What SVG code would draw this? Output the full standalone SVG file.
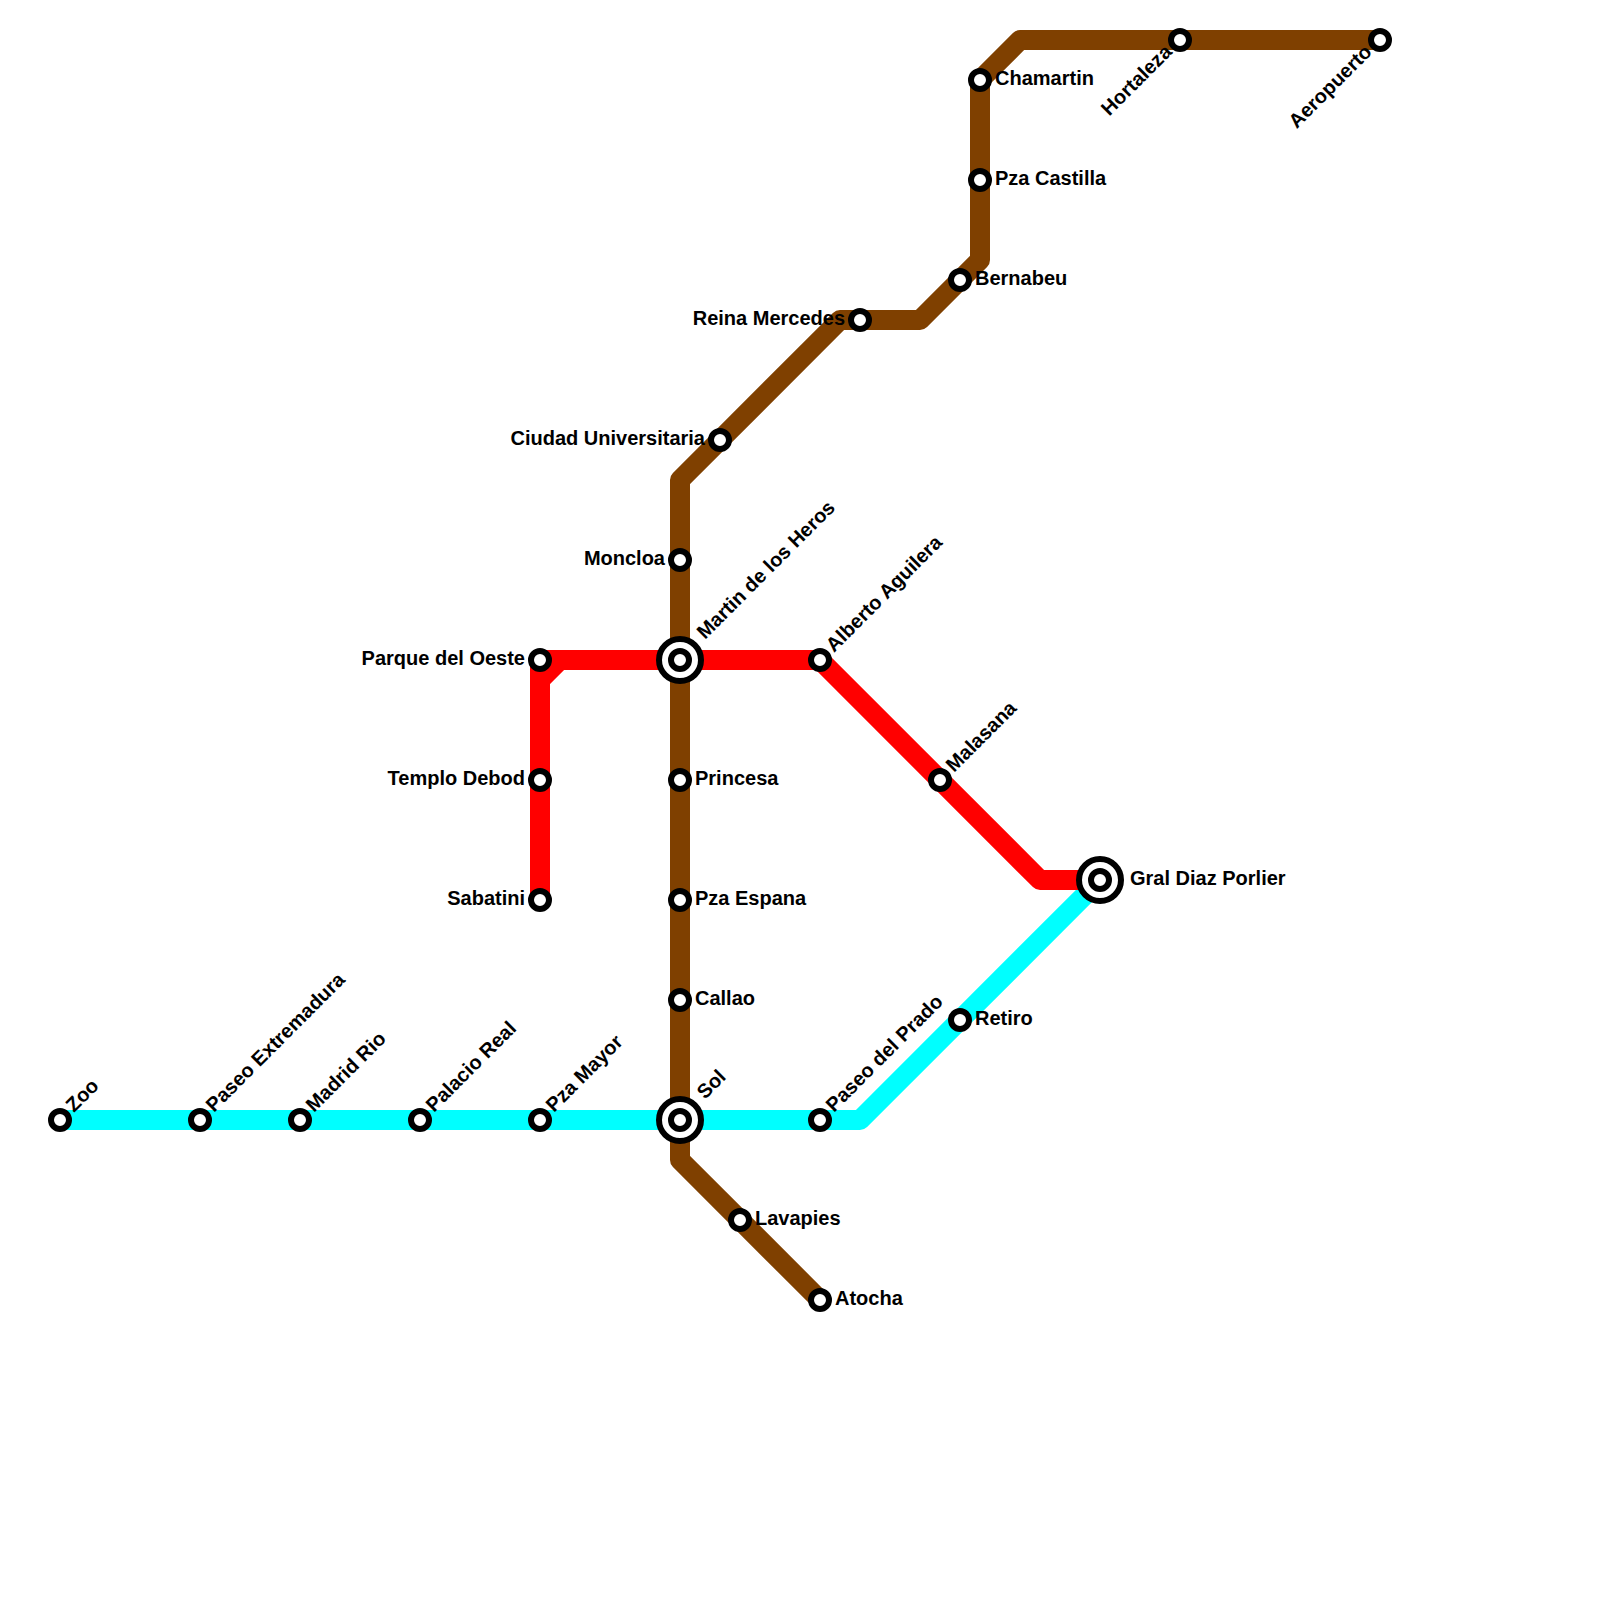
<svg xmlns="http://www.w3.org/2000/svg" width="1600" height="1600" viewBox="0 0 1600 1600">
<style>
.bg{fill:#fff}
.l{fill:none;stroke-width:20;stroke-linejoin:round;stroke-linecap:butt}
.s{fill:#fff;stroke:#000;stroke-width:6}
.t{font-family:"Liberation Sans",Arial,sans-serif;font-weight:700;font-size:20px;fill:#000}
.e{text-anchor:end}
</style>
<rect class="bg" width="1600" height="1600"/>
<g id="connectors">
<path id="line-cyan" class="l" stroke="#00ffff" d="M60 1120H860L1100 880"/>
<path id="line-red" class="l" stroke="#ff0000" d="M540 900V680L560 660H820L1040 880H1100M540 680V660H560"/>
<path id="line-brown" class="l" stroke="#7f4000" d="M820 1300L680 1160V480L840 320H920L980 260V80L1020 40H1380"/>
<path id="line-red-cross" class="l" stroke="#ff0000" d="M660 660H700"/>
</g>
<g id="n-zoo"><circle class="s" cx="60" cy="1120" r="9"/><text class="t" transform="translate(74 1113) rotate(-45)">Zoo</text></g>
<g id="n-paseo-extremadura"><circle class="s" cx="200" cy="1120" r="9"/><text class="t" transform="translate(214 1113) rotate(-45)">Paseo Extremadura</text></g>
<g id="n-madrid-rio"><circle class="s" cx="300" cy="1120" r="9"/><text class="t" transform="translate(314 1113) rotate(-45)">Madrid Rio</text></g>
<g id="n-palacio-real"><circle class="s" cx="420" cy="1120" r="9"/><text class="t" transform="translate(434 1113) rotate(-45)">Palacio Real</text></g>
<g id="n-pza-mayor"><circle class="s" cx="540" cy="1120" r="9"/><text class="t" transform="translate(554 1113) rotate(-45)">Pza Mayor</text></g>
<g id="n-sol"><circle class="s" cx="680" cy="1120" r="21"/><circle class="s" cx="680" cy="1120" r="9"/><text class="t" transform="translate(705 1100) rotate(-45)">Sol</text></g>
<g id="n-paseo-del-prado"><circle class="s" cx="820" cy="1120" r="9"/><text class="t" transform="translate(834 1113) rotate(-45)">Paseo del Prado</text></g>
<g id="n-retiro"><circle class="s" cx="960" cy="1020" r="9"/><text class="t" x="975" y="1025">Retiro</text></g>
<g id="n-gral"><circle class="s" cx="1100" cy="880" r="21"/><circle class="s" cx="1100" cy="880" r="9"/><text class="t" x="1130" y="885">Gral Diaz Porlier</text></g>
<g id="n-sabatini"><circle class="s" cx="540" cy="900" r="9"/><text class="t e" x="525" y="905">Sabatini</text></g>
<g id="n-templo-debod"><circle class="s" cx="540" cy="780" r="9"/><text class="t e" x="525" y="785">Templo Debod</text></g>
<g id="n-parque"><circle class="s" cx="540" cy="660" r="9"/><text class="t e" x="525" y="665">Parque del Oeste</text></g>
<g id="n-martin"><circle class="s" cx="680" cy="660" r="21"/><circle class="s" cx="680" cy="660" r="9"/><text class="t" transform="translate(705 640) rotate(-45)">Martin de los Heros</text></g>
<g id="n-alberto"><circle class="s" cx="820" cy="660" r="9"/><text class="t" transform="translate(834 653) rotate(-45)">Alberto Aguilera</text></g>
<g id="n-malasana"><circle class="s" cx="940" cy="780" r="9"/><text class="t" transform="translate(954 773) rotate(-45)">Malasana</text></g>
<g id="n-atocha"><circle class="s" cx="820" cy="1300" r="9"/><text class="t" x="835" y="1305">Atocha</text></g>
<g id="n-lavapies"><circle class="s" cx="740" cy="1220" r="9"/><text class="t" x="755" y="1225">Lavapies</text></g>
<g id="n-callao"><circle class="s" cx="680" cy="1000" r="9"/><text class="t" x="695" y="1005">Callao</text></g>
<g id="n-pza-espana"><circle class="s" cx="680" cy="900" r="9"/><text class="t" x="695" y="905">Pza Espana</text></g>
<g id="n-princesa"><circle class="s" cx="680" cy="780" r="9"/><text class="t" x="695" y="785">Princesa</text></g>
<g id="n-moncloa"><circle class="s" cx="680" cy="560" r="9"/><text class="t e" x="665" y="565">Moncloa</text></g>
<g id="n-ciudad"><circle class="s" cx="720" cy="440" r="9"/><text class="t e" x="705" y="445">Ciudad Universitaria</text></g>
<g id="n-reina"><circle class="s" cx="860" cy="320" r="9"/><text class="t e" x="845" y="325">Reina Mercedes</text></g>
<g id="n-bernabeu"><circle class="s" cx="960" cy="280" r="9"/><text class="t" x="975" y="285">Bernabeu</text></g>
<g id="n-pza-castilla"><circle class="s" cx="980" cy="180" r="9"/><text class="t" x="995" y="185">Pza Castilla</text></g>
<g id="n-chamartin"><circle class="s" cx="980" cy="80" r="9"/><text class="t" x="995" y="85">Chamartin</text></g>
<g id="n-hortaleza"><circle class="s" cx="1180" cy="40" r="9"/><text class="t e" transform="translate(1173 53) rotate(-45)">Hortaleza</text></g>
<g id="n-aeropuerto"><circle class="s" cx="1380" cy="40" r="9"/><text class="t e" transform="translate(1373 53) rotate(-45)">Aeropuerto</text></g>
</svg>
